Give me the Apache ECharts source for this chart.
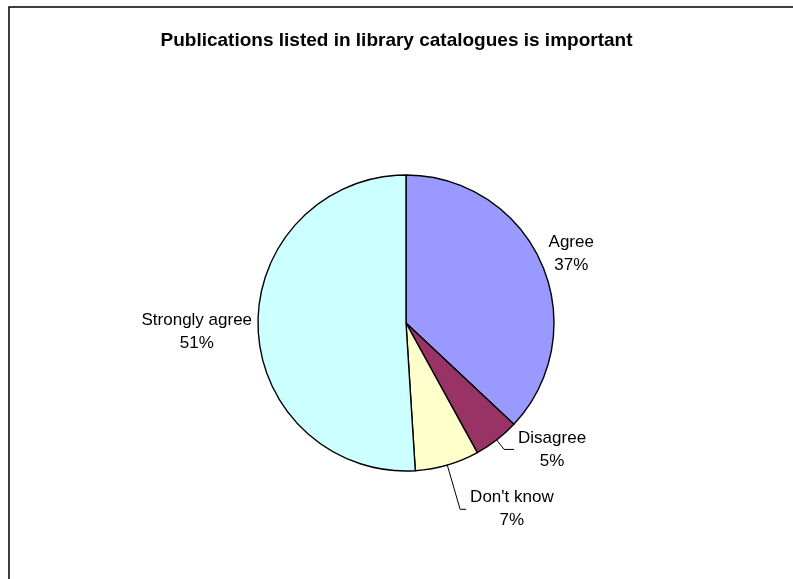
<!DOCTYPE html>
<html>
<head>
<meta charset="utf-8">
<script src="https://cdn.jsdelivr.net/npm/echarts@6/dist/echarts.min.js"></script>
<style>
html,body{margin:0;padding:0;background:#fff;}
#chart{width:793px;height:579px;}
</style>
</head>
<body>
<div id="chart"></div>
<script>
const titleText = 'Publications listed in library catalogues is important';
const categories = ['Agree', 'Disagree', "Don't know", 'Strongly agree'];
const values = [37, 5, 7, 51];
const colors = ['#9999FF', '#993366', '#FFFFCC', '#CCFFFF'];

const lineCfg = [
  {show: false, length: 3, length2: 0},
  {show: true, length: 12, length2: 10},
  {show: true, length: 46, length2: 6},
  {show: false, length: 2, length2: 0}
];
const labelShift = [-9, 0, 0, 4];

const chart = echarts.init(document.getElementById('chart'), null, {renderer: 'canvas'});
const data = categories.map((c, i) => ({
  name: c,
  value: values[i],
  itemStyle: {color: colors[i]},
  labelLine: lineCfg[i]
}));

chart.setOption({
  animation: false,
  backgroundColor: '#fff',
  title: {
    text: titleText,
    left: 'center',
    top: 26,
    textStyle: {fontFamily: 'Liberation Sans', fontSize: 19, fontWeight: 'bold', color: '#000'}
  },
  graphic: [{
    type: 'rect',
    z: -10,
    shape: {x: 9, y: 7, width: 900, height: 700},
    style: {fill: 'none', stroke: '#000', lineWidth: 1.5}
  }],
  series: [{
    type: 'pie',
    center: [406, 323],
    radius: 148,
    startAngle: 90,
    clockwise: true,
    avoidLabelOverlap: false,
    data: data,
    itemStyle: {borderColor: '#000', borderWidth: 1.4},
    emphasis: {disabled: true},
    label: {
      show: true,
      position: 'outside',
      distanceToLabelLine: 4,
      fontFamily: 'Liberation Sans',
      fontSize: 17,
      color: '#000',
      formatter: function (p) {
        return '{t|' + p.name + '}\n{t|' + Math.round(p.percent) + '%}';
      },
      rich: {
        t: {align: 'center', fontFamily: 'Liberation Sans', fontSize: 17, lineHeight: 23, color: '#000'}
      }
    },
    labelLine: {lineStyle: {color: '#000', width: 1}, smooth: false},
    labelLayout: function (params) {
      return {dy: labelShift[params.dataIndex]};
    }
  }]
});
</script>
</body>
</html>
